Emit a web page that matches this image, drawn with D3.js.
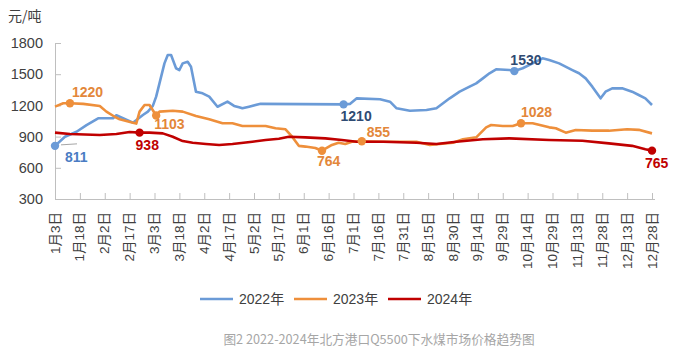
<!DOCTYPE html>
<html>
<head>
<meta charset="utf-8">
<script src="https://cdn.jsdelivr.net/npm/d3@7"></script>
<style>
    body { margin: 0; background: #fff; }
    text { font-family: "Liberation Sans", "Noto Sans CJK SC", sans-serif; }
    .axis path, .axis line { stroke: #bfbfbf; }
    .axis text { fill: #404040; }
    .legend-label { fill: #404040; font-size: 14px; }
    .caption { fill: #a6a6a6; font-size: 12.7px; font-family: "Noto Sans CJK SC", sans-serif; }
    .point-label { font-size: 14px; font-weight: bold; }
</style>
</head>
<body>
<div id="price-chart"></div>
<script>
// x axis categories (every 15 days)
const tickLabels = ["1月3日", "1月18日", "2月2日", "2月17日", "3月3日", "3月18日", "4月2日", "4月17日",
    "5月2日", "5月17日", "6月1日", "6月16日", "7月1日", "7月16日", "7月31日", "8月15日", "8月30日",
    "9月14日", "9月29日", "10月14日", "10月29日", "11月13日", "11月28日", "12月13日", "12月28日"];
const yTicks = [300, 600, 900, 1200, 1500, 1800];
const seriesNames = ["2022年", "2023年", "2024年"];

// [month-day, price]
const price2022 = [
    ["01-03", 811], ["01-09", 899], ["01-16", 947], ["01-22", 1011], ["01-29", 1076], ["02-07", 1076],
    ["02-09", 1105], ["02-19", 1034], ["02-25", 1108], ["02-28", 1140], ["03-02", 1195], ["03-04", 1284],
    ["03-06", 1412], ["03-09", 1604], ["03-11", 1685], ["03-13", 1685], ["03-16", 1557], ["03-18", 1540],
    ["03-20", 1604], ["03-23", 1620], ["03-25", 1572], ["03-28", 1332], ["04-01", 1316], ["04-05", 1284],
    ["04-10", 1187], ["04-16", 1236], ["04-20", 1195], ["04-23", 1182], ["04-25", 1172], ["04-29", 1188],
    ["05-06", 1215], ["06-25", 1210], ["06-29", 1215], ["07-03", 1268], ["07-17", 1259], ["07-23", 1236],
    ["07-27", 1172], ["08-04", 1149], ["08-14", 1156], ["08-20", 1172], ["08-24", 1220], ["08-28", 1268],
    ["09-03", 1332], ["09-09", 1380], ["09-13", 1412], ["09-17", 1460], ["09-21", 1509], ["09-25", 1547],
    ["10-03", 1540], ["10-06", 1530], ["10-11", 1557], ["10-17", 1604], ["10-23", 1653], ["10-27", 1636],
    ["11-02", 1604], ["11-10", 1540], ["11-14", 1509], ["11-18", 1460], ["11-22", 1380], ["11-27", 1268],
    ["11-30", 1332], ["12-04", 1364], ["12-10", 1364], ["12-16", 1332], ["12-20", 1300], ["12-24", 1268],
    ["12-28", 1204]
];
const price2023 = [
    ["01-03", 1188], ["01-08", 1220], ["01-12", 1220], ["01-20", 1215], ["01-30", 1195], ["02-03", 1140],
    ["02-08", 1091], ["02-11", 1066], ["02-19", 1034], ["02-21", 1025], ["02-23", 1140], ["02-26", 1204],
    ["02-29", 1204], ["03-04", 1103], ["03-06", 1140], ["03-14", 1149], ["03-20", 1140], ["03-28", 1098],
    ["04-05", 1066], ["04-13", 1028], ["04-19", 1028], ["04-25", 1002], ["05-09", 1002], ["05-15", 980],
    ["05-21", 970], ["05-25", 899], ["05-29", 811], ["06-02", 804], ["06-08", 790], ["06-12", 764],
    ["06-18", 820], ["06-22", 841], ["06-26", 829], ["06-30", 851], ["07-06", 855], ["07-19", 850],
    ["08-08", 851], ["08-16", 820], ["08-22", 829], ["08-30", 841], ["09-05", 874], ["09-13", 893],
    ["09-19", 989], ["09-22", 1011], ["09-29", 1002], ["10-05", 1002], ["10-10", 1028], ["10-17", 1028],
    ["10-27", 989], ["10-31", 980], ["11-06", 938], ["11-12", 963], ["11-22", 957], ["12-02", 957],
    ["12-13", 970], ["12-20", 965], ["12-28", 931]
];
const price2024 = [
    ["01-03", 938], ["01-12", 925], ["01-30", 915], ["02-09", 925], ["02-17", 944], ["02-23", 938],
    ["02-29", 938], ["03-08", 931], ["03-14", 899], ["03-20", 857], ["03-26", 841], ["04-03", 829],
    ["04-11", 819], ["04-19", 829], ["05-01", 851], ["05-09", 867], ["05-17", 880], ["05-23", 899],
    ["06-02", 893], ["06-14", 883], ["06-24", 867], ["07-03", 851], ["07-19", 851], ["08-08", 841],
    ["08-20", 829], ["09-01", 851], ["09-17", 874], ["10-03", 883], ["10-27", 867], ["11-16", 860],
    ["12-02", 835], ["12-16", 811], ["12-24", 778], ["12-28", 765]
];

// highlighted points: [series index, month-day, price]
const markedPoints = [
    [0, "01-03", 811], [0, "06-25", 1210], [0, "10-06", 1530],
    [1, "01-12", 1220], [1, "03-04", 1103], [1, "06-12", 764], [1, "07-06", 855], [1, "10-10", 1028],
    [2, "02-23", 938], [2, "12-28", 765]
];

class PriceChart {
    constructor() {
        this.config = {
            width: 679,
            height: 354,
            left: 55,
            right: 652,
            top: 43,
            bottom: 199,
            colors: ["#6b9bd7", "#ee8f3b", "#c00000"],
            labelColors: ["#4a7cc3", "#e3873a", "#c00000"],
        }

        // where each point label sits relative to its dot
        this.labelOffsets = {
            "811": [10, 16], "1210": [-3, 17], "1530": [-4, -6],
            "1220": [2, -6], "1103": [-2, 14], "764": [-5, 15], "855": [5, -4], "1028": [0, -6],
            "938": [-4, 17], "765": [-7, 17],
        }

        this.svg = d3.select('#price-chart')
            .append('svg')
            .attr('width', this.config.width)
            .attr('height', this.config.height)
        ;
    }

    display() {
        const parseDay = d3.timeParse('%Y-%m-%d');
        const toDate = md => parseDay('2024-' + md);
        const labelToDate = s => {
            let m = s.match(/(\d+)月(\d+)日/);
            return new Date(2024, +m[1] - 1, +m[2]);
        };
        const tickDates = tickLabels.map(labelToDate);

        let x = d3.scaleTime()
            .domain([tickDates[0], tickDates[tickDates.length - 1]])
            .range([this.config.left, this.config.right])
        ;
        let y = d3.scaleLinear()
            .domain([300, 1800])
            .range([this.config.bottom, this.config.top])
        ;

        // axes
        let xAxis = d3.axisBottom(x)
            .tickValues(tickDates)
            .tickSizeInner(-6)
            .tickSizeOuter(0)
            .tickFormat((d, i) => tickLabels[i])
        ;
        let xg = this.svg.append('g')
            .attr('class', 'axis')
            .attr('transform', `translate(0,${this.config.bottom})`)
            .call(xAxis)
        ;
        xg.select('.domain').attr('d', `M${this.config.left},0.5H${this.config.right + 3}`);
        xg.selectAll('text')
            .attr('transform', 'rotate(-90)')
            .attr('x', -13)
            .attr('y', 0)
            .attr('dy', '0.3em')
            .attr('text-anchor', 'end')
            .style('font-size', '13.5px')
        ;

        let yAxis = d3.axisLeft(y)
            .tickValues(yTicks)
            .tickSizeInner(-6)
            .tickSizeOuter(0)
            .tickPadding(12)
            .tickFormat(d3.format('d'))
        ;
        this.svg.append('g')
            .attr('class', 'axis')
            .attr('transform', `translate(${this.config.left},0)`)
            .call(yAxis)
            .selectAll('text')
            .style('font-size', '14.5px')
        ;

        this.svg.append('text')
            .attr('x', 8)
            .attr('y', 21)
            .attr('fill', '#404040')
            .style('font-size', '14px')
            .style('font-family', '"Noto Sans CJK SC", sans-serif')
            .text('元/吨')
        ;

        // lines
        const allSeries = [price2022, price2023, price2024];
        let line = d3.line()
            .x(d => x(toDate(d[0])))
            .y(d => y(d[1]))
        ;
        allSeries.forEach((s, i) => {
            this.svg.append('path')
                .attr('d', line(s))
                .attr('fill', 'none')
                .attr('stroke', this.config.colors[i])
                .attr('stroke-width', 2.6)
                .attr('stroke-linejoin', 'round')
            ;
        });

        // small leader line for the first label
        this.svg.append('line')
            .attr('x1', x(toDate('01-03')) + 6)
            .attr('y1', y(811) - 1)
            .attr('x2', x(toDate('01-03')) + 22)
            .attr('y2', y(811) - 2)
            .attr('stroke', '#a6a6a6')
            .attr('stroke-width', 1)
        ;

        // marked points and their labels
        this.svg.selectAll('circle.mark')
            .data(markedPoints)
            .enter()
            .append('circle')
            .attr('class', 'mark')
            .attr('cx', d => x(toDate(d[1])))
            .attr('cy', d => y(d[2]))
            .attr('r', 4.2)
            .attr('fill', d => this.config.colors[d[0]])
        ;
        this.svg.selectAll('text.point-label')
            .data(markedPoints)
            .enter()
            .append('text')
            .attr('class', 'point-label')
            .attr('x', d => x(toDate(d[1])) + this.labelOffsets[d[2]][0])
            .attr('y', d => y(d[2]) + this.labelOffsets[d[2]][1])
            .attr('fill', d => (d[0] == 0 && d[2] != 811) ? '#2f4b73' : this.config.labelColors[d[0]])
            .text(d => d[2])
        ;

        // legend
        const legendX = [200, 294, 388];
        let legend = this.svg.selectAll('g.legend')
            .data(seriesNames)
            .enter()
            .append('g')
            .attr('class', 'legend')
            .attr('transform', (d, i) => `translate(${legendX[i]},299)`)
        ;
        legend.append('line')
            .attr('x1', 0)
            .attr('x2', 33)
            .attr('stroke', (d, i) => this.config.colors[i])
            .attr('stroke-width', 2.6)
        ;
        legend.append('text')
            .attr('class', 'legend-label')
            .attr('x', 39)
            .attr('dy', '0.35em')
            .text(d => d)
        ;

        this.svg.append('text')
            .attr('class', 'caption')
            .attr('x', 379)
            .attr('y', 344)
            .attr('text-anchor', 'middle')
            .text('图2 2022-2024年北方港口Q5500下水煤市场价格趋势图')
        ;
    }
}

let chart = new PriceChart();
chart.display();
</script>
</body>
</html>
